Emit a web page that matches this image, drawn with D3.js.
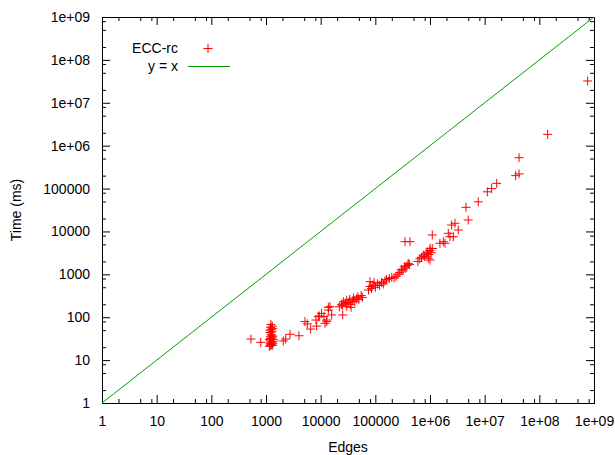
<!DOCTYPE html>
<html>
<head>
<meta charset="utf-8">
<script src="https://cdn.jsdelivr.net/npm/d3@7"></script>
<style>
	body { margin: 0; background: #fff; }
	svg { display: block; }
</style>
</head>
<body>
<div id="chart"></div>
<script>
// ###
// DATA
// ###

const edges = [
	530, 800,
	1150, 1200, 1250, 1180, 1300, 1220, 1280, 1200, 1350, 1150, 1250, 1300, 1200, 1330, 1240, 1190, 1290, 1260, 1210, 1300, 1230, 1180, 1320, 1270, 1210, 1380, 1340,
	2070, 2290, 2750, 4010,
	5160, 5690, 6560, 8200, 8460, 9060, 9440, 10400, 11500, 12000, 12900, 12900, 13800, 13800, 14800, 15900, 25300,
	22000, 24000, 26000, 25000, 28000, 30000, 32000, 35000, 34000, 38000, 40000, 42000, 45000, 48000, 50000, 55000, 58000, 30000, 36000,
	75000, 80000, 85000, 90000, 100000, 110000, 120000, 130000, 140000, 150000, 160000, 180000, 200000, 220000, 240000, 95000, 79800,
	260000, 280000, 300000, 320000, 340000, 360000, 380000, 400000, 420000, 349000, 430000,
	600000, 650000, 700000, 750000, 800000, 850000, 900000, 950000, 1000000, 1050000, 1100000, 930000, 1000000, 1100000, 1000000,
	1520000, 1750000, 1880000, 2160000, 2320000, 2490000, 2670000, 2860000, 3290000,
	4550000, 5000000, 7640000, 11200000, 13400000, 16600000, 36900000, 42500000, 42500000, 142000000, 766000000
];

const timeMs = [
	31, 26,
	21, 22, 23, 24, 22, 26, 25, 28, 27, 30, 31, 33, 35, 36, 40, 44, 46, 52, 58, 62, 68, 50, 55, 38, 32, 30, 24,
	28, 31, 40, 37,
	79, 70, 53, 86, 62, 103, 107, 123, 103, 72, 86, 79, 147, 170, 176, 113, 113,
	175, 200, 230, 190, 210, 250, 220, 200, 260, 240, 280, 230, 270, 300, 260, 320, 290, 180, 170,
	430, 520, 470, 560, 500, 600, 550, 650, 600, 700, 760, 800, 850, 820, 900, 650, 673,
	1000, 1100, 1300, 1200, 1500, 1400, 1600, 1800, 1700, 5770, 5770,
	2000, 2300, 2500, 2800, 2600, 3000, 3300, 2900, 3600, 3200, 4000, 2370, 2150, 8260, 4050,
	5290, 5770, 5290, 9060, 7540, 14100, 7540, 15500, 10800,
	36500, 18500, 49000, 84000, 100000, 132000, 200000, 220000, 524000, 1840000, 32200000
];

const majorTicks = [1, 10, 100, 1000, 1e4, 1e5, 1e6, 1e7, 1e8, 1e9];
const tickLabels = ['1', '10', '100', '1000', '10000', '100000', '1e+06', '1e+07', '1e+08', '1e+09'];
const minorMantissas = [2, 5, 8];
const legendLabels = ['ECC-rc', 'y = x'];

// ###
// SET SCALES, AXES, ETC.
// ###

const width = 615,
	height = 455,
	margin = {top: 17, right: 21, bottom: 52, left: 102},
	innerWidth = width - margin.left - margin.right,
	innerHeight = height - margin.top - margin.bottom,
	font = '"Liberation Sans", Arial, Helvetica, sans-serif',
	red = '#ff0000',
	green = '#00a000';

const minorTicks = [];
majorTicks.slice(0, -1).forEach(t => minorMantissas.forEach(m => minorTicks.push(t * m)));

const points = edges.map((e, i) => ({x: e, y: timeMs[i]}));

const svg = d3.select('#chart').append('svg')
	.attr('width', width)
	.attr('height', height);

const x = d3.scaleLog()
	.domain([1, 1e9])
	.range([margin.left, margin.left + innerWidth]);

const y = d3.scaleLog()
	.domain([1, 1e9])
	.range([margin.top + innerHeight, margin.top]);

const label = d => tickLabels[majorTicks.indexOf(d)];

// ticks point inward on all four sides, like gnuplot
function drawAxis(axisFn, scale, transform, values, size, labels, pad) {
	const g = svg.append('g')
		.attr('transform', transform)
		.call(axisFn(scale)
			.tickValues(values)
			.tickSizeInner(-size)
			.tickSizeOuter(0)
			.tickPadding(pad || 3)
			.tickFormat(labels ? label : ''));
	g.select('.domain').remove();
	g.selectAll('line').attr('stroke', '#000');
	g.attr('font-family', font).attr('font-size', 14);
	g.selectAll('text').attr('fill', '#000');
	return g;
}

const bottomY = margin.top + innerHeight,
	rightX = margin.left + innerWidth;

drawAxis(d3.axisBottom, x, `translate(0,${bottomY})`, majorTicks, 8, true, 13);
drawAxis(d3.axisBottom, x, `translate(0,${bottomY})`, minorTicks, 4, false);
drawAxis(d3.axisTop, x, `translate(0,${margin.top})`, majorTicks, 8, false);
drawAxis(d3.axisTop, x, `translate(0,${margin.top})`, minorTicks, 4, false);
drawAxis(d3.axisLeft, y, `translate(${margin.left},0)`, majorTicks, 8, true, 12);
drawAxis(d3.axisLeft, y, `translate(${margin.left},0)`, minorTicks, 4, false);
drawAxis(d3.axisRight, y, `translate(${rightX},0)`, majorTicks, 8, false);
drawAxis(d3.axisRight, y, `translate(${rightX},0)`, minorTicks, 4, false);

svg.append('rect')
	.attr('x', margin.left + 0.5)
	.attr('y', margin.top + 0.5)
	.attr('width', innerWidth)
	.attr('height', innerHeight)
	.attr('fill', 'none')
	.attr('stroke', '#000');

// axis titles
svg.append('text')
	.attr('x', margin.left + innerWidth / 2)
	.attr('y', 452)
	.attr('text-anchor', 'middle')
	.attr('font-family', font)
	.attr('font-size', 14)
	.text('Edges');

svg.append('text')
	.attr('transform', `translate(21,${margin.top + innerHeight / 2}) rotate(-90)`)
	.attr('text-anchor', 'middle')
	.attr('font-family', font)
	.attr('font-size', 14)
	.text('Time (ms)');

// ###
// y = x LINE AND POINTS
// ###

const line = d3.line()
	.x(d => x(d))
	.y(d => y(d));

svg.append('path')
	.datum([1, 1e9])
	.attr('d', line)
	.attr('stroke', green)
	.attr('stroke-width', 1)
	.attr('fill', 'none');

const plus = 'M-4.5,0h9M0,-4.5v9';

svg.append('g')
	.selectAll('path')
	.data(points)
	.join('path')
	.attr('transform', d => `translate(${x(d.x)},${y(d.y)})`)
	.attr('d', plus)
	.attr('stroke', red)
	.attr('stroke-width', 1)
	.attr('fill', 'none');

// ###
// LEGEND
// ###

const legend = svg.append('g')
	.attr('font-family', font)
	.attr('font-size', 14);

legend.selectAll('text')
	.data(legendLabels)
	.join('text')
	.attr('x', 178)
	.attr('y', (d, i) => 53 + i * 18)
	.attr('text-anchor', 'end')
	.text(d => d);

legend.append('path')
	.attr('transform', 'translate(208,48.5)')
	.attr('d', plus)
	.attr('stroke', red)
	.attr('fill', 'none');

legend.append('line')
	.attr('x1', 188)
	.attr('x2', 230)
	.attr('y1', 66.5)
	.attr('y2', 66.5)
	.attr('stroke', green);
</script>
</body>
</html>
